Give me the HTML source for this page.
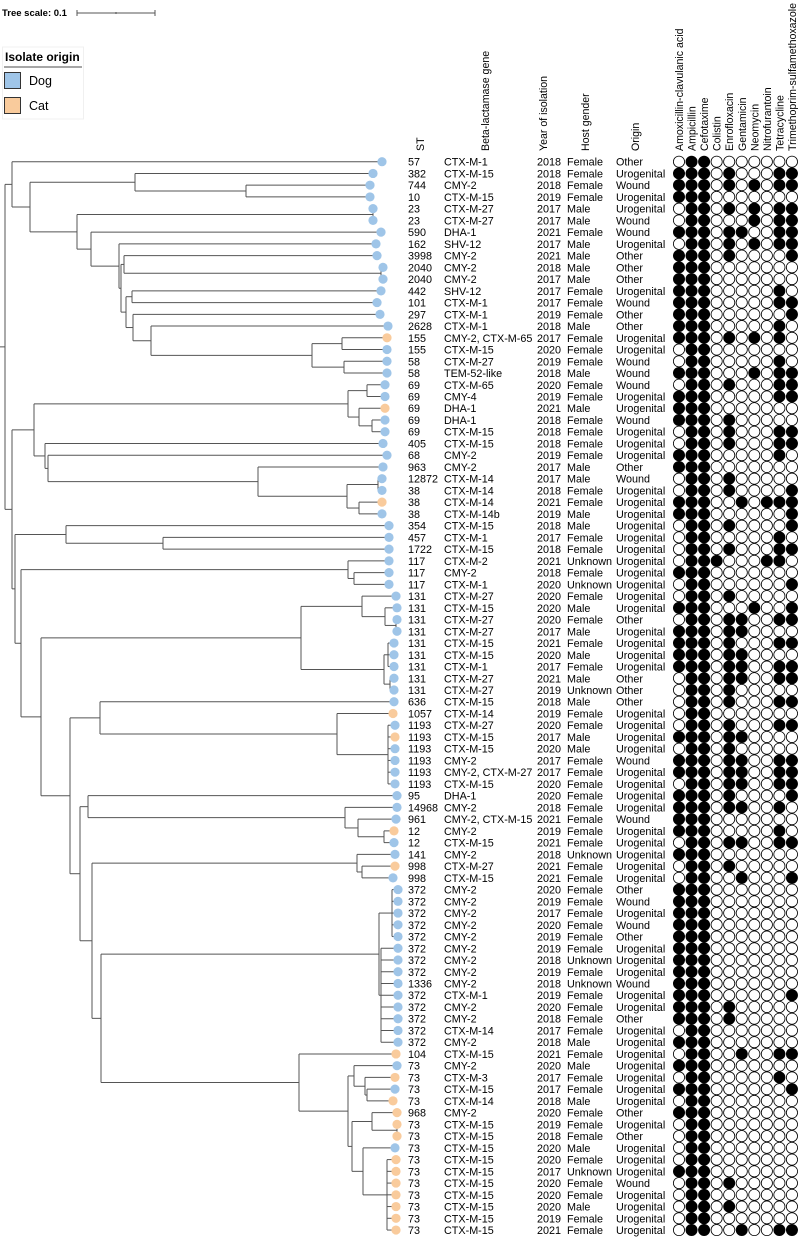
<!DOCTYPE html>
<html><head><meta charset="utf-8"><style>
html,body{margin:0;padding:0;background:#fff;}
svg{display:block;font-family:"Liberation Sans",sans-serif;}
</style></head><body>
<svg id="chart" width="798" height="1242" viewBox="0 0 798 1242" xmlns="http://www.w3.org/2000/svg">
<g>
<text x="2" y="16" font-size="9.5" font-weight="bold">Tree scale: 0.1</text>
<line x1="77" y1="13" x2="155" y2="13" stroke="#555" stroke-width="1"/>
<line x1="77" y1="10" x2="77" y2="16" stroke="#555"/>
<line x1="155" y1="10" x2="155" y2="16" stroke="#555"/>
<line x1="116" y1="12" x2="116" y2="14" stroke="#555"/>
</g>
<g>
<rect x="2.5" y="47" width="81" height="72" fill="#fff" stroke="#f0f0f0"/>
<text x="5" y="61" font-size="12" font-weight="bold">Isolate origin</text>
<line x1="4" y1="67" x2="82" y2="67" stroke="#888" stroke-width="1.5"/>
<rect x="4.5" y="72.5" width="16" height="16" fill="#9fc5e8" stroke="#333"/>
<text x="29" y="85" font-size="12.5">Dog</text>
<rect x="4.5" y="97.5" width="16" height="16" fill="#f9cb9c" stroke="#333"/>
<text x="29" y="110" font-size="12.5">Cat</text>
</g>
<g id="tree"></g>
<g id="tips"></g>
<g id="headers"></g>
<g id="rows"></g>
<g id="matrix"></g>
</svg>
<script>
const stValues=[57,382,744,10,23,23,590,162,3998,2040,2040,442,101,297,2628,155,155,58,58,69,69,69,69,69,405,68,963,12872,38,38,38,354,457,1722,117,117,117,131,131,131,131,131,131,131,131,131,636,1057,1193,1193,1193,1193,1193,1193,95,14968,961,12,12,141,998,998,372,372,372,372,372,372,372,372,1336,372,372,372,372,372,104,73,73,73,73,968,73,73,73,73,73,73,73,73,73,73];
const genes=["CTX-M-1","CTX-M-15","CMY-2","CTX-M-15","CTX-M-27","CTX-M-27","DHA-1","SHV-12","CMY-2","CMY-2","CMY-2","SHV-12","CTX-M-1","CTX-M-1","CTX-M-1","CMY-2, CTX-M-65","CTX-M-15","CTX-M-27","TEM-52-like","CTX-M-65","CMY-4","DHA-1","DHA-1","CTX-M-15","CTX-M-15","CMY-2","CMY-2","CTX-M-14","CTX-M-14","CTX-M-14","CTX-M-14b","CTX-M-15","CTX-M-1","CTX-M-15","CTX-M-2","CMY-2","CTX-M-1","CTX-M-27","CTX-M-15","CTX-M-27","CTX-M-27","CTX-M-15","CTX-M-15","CTX-M-1","CTX-M-27","CTX-M-27","CTX-M-15","CTX-M-14","CTX-M-27","CTX-M-15","CTX-M-15","CMY-2","CMY-2, CTX-M-27","CTX-M-15","DHA-1","CMY-2","CMY-2, CTX-M-15","CMY-2","CTX-M-15","CMY-2","CTX-M-27","CTX-M-15","CMY-2","CMY-2","CMY-2","CMY-2","CMY-2","CMY-2","CMY-2","CMY-2","CMY-2","CTX-M-1","CMY-2","CMY-2","CTX-M-14","CMY-2","CTX-M-15","CMY-2","CTX-M-3","CTX-M-15","CTX-M-14","CMY-2","CTX-M-15","CTX-M-15","CTX-M-15","CTX-M-15","CTX-M-15","CTX-M-15","CTX-M-15","CTX-M-15","CTX-M-15","CTX-M-15"];
const years=[2018,2018,2018,2019,2017,2017,2021,2017,2021,2018,2017,2017,2017,2019,2018,2017,2020,2019,2018,2020,2019,2021,2018,2018,2018,2019,2017,2017,2018,2021,2019,2018,2017,2018,2021,2018,2020,2020,2020,2020,2017,2021,2020,2017,2021,2019,2018,2019,2020,2017,2020,2017,2017,2020,2020,2018,2021,2019,2021,2018,2021,2021,2020,2019,2017,2020,2019,2019,2018,2019,2018,2019,2020,2018,2017,2018,2021,2020,2017,2017,2018,2020,2019,2018,2020,2020,2017,2020,2020,2020,2019,2021];
const genders="F F F F M M F M M M M F F F M F F F M F F M F F F F M M F F M M F F U F U F M F M F M F M U M F F M M F F F F F F F F U F F F F F F F F U F U F F F F M F M F F M F F F M F U F F M F F".split(" ");
const origins="O U W U U W W U O O O U W O O U U W W W U U W U U U O W U U U U U U U U U U U O U U U U O O O U U U U W U U U U W U U U U U O W U W O U U U W U U O U U U U U U U O U O U U U W U U U U".split(" ");
const hosts="DDDDDDDDDDDDDDDCDDDDDCDDDDDDDCDDDDDDDDDDDDDDDDDCDCDDDDDDDCDDCDDDDDDDDDDDDDDDCDCDCCCCDCCCCCCC";
const drugs=["Amoxicillin-clavulanic acid","Ampicillin","Cefotaxime","Colistin","Enrofloxacin","Gentamicin","Neomycin","Nitrofurantoin","Tetracycline","Trimethoprim-sulfamethoxazole"];
const resistance=["0110000000","1110100011","1110101011","1110000000","0110101011","0110001011","1110110011","0110101011","1110100001","1110000000","1110000000","1110000010","1110000011","1110000001","1110000010","1110101010","0110000000","0110000010","1110001011","0110100011","1110000011","1110000000","1110100000",
"0110100011","0110100011","1110000010","1110000000","0110100000","0110100001","1110010111","1110000001","0110100001","0110000010","0110100011","0111000110","1110000000","0110000001","0110100000","1110001001","0110110011","1110110000","1110100011","1110110000","1110110011","0110110011","0110100000",
"0110100011","0110000000","0110100011","1110110000","0110100000","1110110011","1110110011","0110110011","1110100001","1110110010","1110000000","1110000010","0110110011","1110000000","0110100000","0110010001","1110000000","1110000000","1110000000","1110000000","1110000000","1110000000","1110000000",
"1110000000","1110000000","1110000001","1110100000","1110100000","0110000000","1110000000","0110010011","1110000000","0110000010","1110000001","0110000000","1110000000","0110000000","0110000000","0110000000","0110000000","1110000000","0110100000","0110000000","0110100000","0110000000","0110010011"];
// tree topology: [nodeX, children...]; leaves are 1-based row indices
const cA5=[312,[342,16,17],[344,18,19]];
const cA4=[121,[124,9,[381,10,11]],[126,[132,12,13],[133,14,[151,15,cA5]]]];
const cA=[12,1,[30,[135,2,[246,3,4]],[77,[373,5,6],[91,7,[119,8,cA4]]]]];
const cB1=[34,[348,[367,20,21],[359,22,[372,23,24]]],[45,25,[48,26,[258,27,[347,[378,28,29],[359,30,31]]]]]];
const c131=[301,[362,38,[385,39,[396,40,41]]],[384,[388,42,43,44],[390,45,46]]];
const cE2=[299,77,[348,[354,78,[365,79,[367,80,81]]],[352,[372,82,[397,83,84]],[363,85,[387,86,87,88,89,90,91,92]]]]];
const cD6=[101,[379,[392,63,64,65,66,67],[381,68,69,70,71,72,73,74,75,76]],cE2];
const cD4=[92,[357,60,[362,61,62]],cD6];
const cD2=[80,[88,55,[345,56,[358,57,[384,58,59]]]],cD4];
const cC2=[70,[100,47,[337,48,[388,49,50,51,52,53,54]]],cD2];
const cC=[41,c131,cC2];
const cB2=[15,[66,32,[163,33,34]],[21,[348,35,[354,36,37]],cC]];
const cB=[12,cB1,cB2];
const tree=[5,cA,cB];
const tipX=[382,373,370,370,373,373,381,376,377,383,383,381,377,380,388,387,387,387,387,385,385,385,385,385,383,387,383,382,382,382,382,389,389,389,389,389,389,396,397,397,397,394,394,394,394,394,394,393,395,395,395,395,395,395,397,397,396,394,394,395,395,393,398,398,398,398,398,398,398,398,398,398,398,398,398,398,396,397,395,395,393,397,397,397,395,396,396,396,396,396,396,396];

const NS="http://www.w3.org/2000/svg";
const y0=161.7, dy=11.74;
function rowY(i){return y0+(i-1)*dy;}
function colX(j){return 679+j*12.55;}
function mk(tag,attrs,parent){const e=document.createElementNS(NS,tag);for(const k in attrs)e.setAttribute(k,attrs[k]);parent.appendChild(e);return e;}
const gT=document.getElementById('tree'),gP=document.getElementById('tips'),gH=document.getElementById('headers'),gR=document.getElementById('rows'),gM=document.getElementById('matrix');
function layout(n){
  if(typeof n==='number') return {x:tipX[n-1],y:rowY(n)};
  const x=n[0];const kids=n.slice(1).map(layout);
  kids.forEach(k=>{const l=mk('line',{x1:x,y1:k.y,x2:k.x,y2:k.y,stroke:'#555','stroke-width':1},gT);
    
    });
  const ya=kids[0].y,yb=kids[kids.length-1].y;
  const v=mk('line',{x1:x,y1:ya,x2:x,y2:yb,stroke:'#555','stroke-width':1},gT);
  
  
  return {x:x,y:(ya+yb)/2};
}
const root=layout(tree);
mk('line',{x1:0,y1:root.y,x2:5,y2:root.y,stroke:'#555'},gT);
const gMap={F:'Female',M:'Male',U:'Unknown'};
const oMap={O:'Other',U:'Urogenital',W:'Wound'};
for(let i=1;i<=stValues.length;i++){
  const y=rowY(i);
  const c=mk('circle',{cx:tipX[i-1],cy:y,r:4.6,fill:hosts[i-1]==='C'?'#f9cb9c':'#9fc5e8'},gP);
  
  
  const cols=[[408,String(stValues[i-1])],[444,genes[i-1]||''],[537,String(years[i-1]||'')],[567,gMap[genders[i-1]]||''],[616,oMap[origins[i-1]]||'']];
  const names=['st-label','gene-label','year-label','gender-label','origin-label'];
  cols.forEach((cc,k)=>{const t=mk('text',{x:cc[0],y:y+4,'font-size':10.8},gR);t.textContent=cc[1];
    
    });
  const rs=resistance[i-1]||'0000000000';
  for(let j=0;j<drugs.length;j++){
    const on=rs[j]==='1';
    const d=mk('circle',{cx:colX(j),cy:y,r:5.6,fill:on?'#000':'#fff',stroke:'#000','stroke-width':0.8},gM);
    
    
  }
}
const heads=[[424,'ST'],[489,'Beta-lactamase gene'],[547,'Year of isolation'],[589,'Host gender'],[639,'Origin']];
heads.forEach(h=>{const t=mk('text',{x:0,y:0,'font-size':10.6,transform:'translate('+h[0]+',151) rotate(-90)'},gH);t.textContent=h[1];
  
  });
drugs.forEach((d,j)=>{const t=mk('text',{x:0,y:0,'font-size':10.6,transform:'translate('+(colX(j)+4)+',151) rotate(-90)'},gH);t.textContent=d;
  
  });
</script>
</body></html>
